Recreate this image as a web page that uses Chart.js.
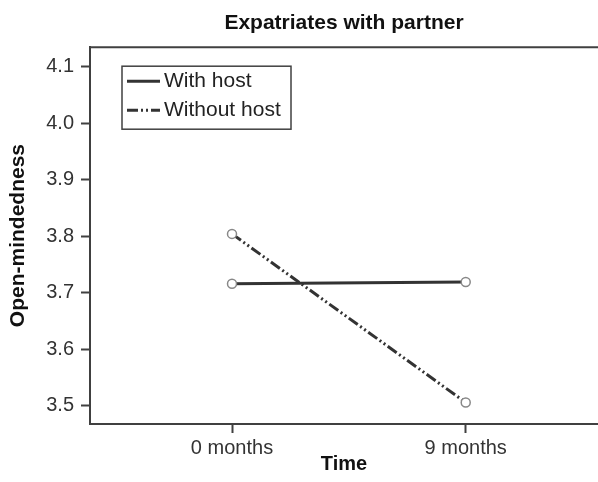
<!DOCTYPE html>
<html>
<head>
<meta charset="utf-8">
<script src="https://cdn.jsdelivr.net/npm/chart.js@4/dist/chart.umd.min.js"></script>
<style>
  html, body { margin: 0; padding: 0; background: #fff; }
  #wrap { width: 598px; height: 482px; }
</style>
</head>
<body>
<div id="wrap"><canvas id="chart"></canvas></div>
<script>
// Data
const categories = ["0 months", "9 months"];
const withHost = [3.716, 3.719];
const withoutHost = [3.804, 3.506];
const yTicks = [3.5, 3.6, 3.7, 3.8, 3.9, 4.0, 4.1];

const FONT = "'Liberation Sans', Arial, sans-serif";
const AXIS = "#404040";

// top frame line + boxed legend
const framePlugin = {
  id: "frame",
  afterDraw(chart) {
    const { ctx, chartArea } = chart;
    ctx.save();
    ctx.strokeStyle = AXIS;
    ctx.lineWidth = 2;
    ctx.beginPath();
    ctx.moveTo(chartArea.left, chartArea.top);
    ctx.lineTo(chartArea.right, chartArea.top);
    ctx.stroke();

    // legend
    const x = chartArea.left + 32, y = chartArea.top + 19;
    const w = 169, h = 63;
    ctx.lineWidth = 1.5;
    ctx.strokeRect(x, y, w, h);
    ctx.font = "21px " + FONT;
    ctx.textBaseline = "middle";
    ctx.fillStyle = "#222";
    chart.data.datasets.forEach((ds, i) => {
      const ly = y + 15 + i * 29;
      ctx.strokeStyle = ds.borderColor;
      ctx.lineWidth = 3;
      ctx.setLineDash(ds.borderDash || []);
      ctx.beginPath();
      ctx.moveTo(x + 5, ly);
      ctx.lineTo(x + 38, ly);
      ctx.stroke();
      ctx.setLineDash([]);
      ctx.fillText(ds.label, x + 42, ly);
    });
    ctx.restore();
  }
};

const toPoints = (arr) => arr.map((v, i) => ({ x: i, y: v }));

new Chart(document.getElementById("chart"), {
  type: "line",
  data: {
    datasets: [
      {
        label: "With host",
        data: toPoints(withHost),
        borderColor: "#333",
        borderWidth: 3,
        pointRadius: 4.5,
        pointBackgroundColor: "#fff",
        pointBorderColor: "#888",
        pointBorderWidth: 1.5,
      },
      {
        label: "Without host",
        data: toPoints(withoutHost),
        borderColor: "#333",
        borderWidth: 3,
        borderDash: [11, 3, 2, 3, 2, 3],
        pointRadius: 4.5,
        pointBackgroundColor: "#fff",
        pointBorderColor: "#888",
        pointBorderWidth: 1.5,
      },
    ],
  },
  options: {
    responsive: true,
    maintainAspectRatio: false,
    animation: false,
    layout: { padding: 0, autoPadding: false },
    plugins: {
      legend: { display: false },
      tooltip: { enabled: false },
      title: {
        display: true,
        text: "Expatriates with partner",
        fullSize: false,
        color: "#111",
        font: { family: FONT, size: 21, weight: "bold" },
        padding: { top: 11, bottom: 11 },
      },
    },
    scales: {
      x: {
        type: "linear",
        min: -0.6076,
        max: 1.566,
        afterBuildTicks: (scale) => {
          scale.ticks = categories.map((c, i) => ({ value: i }));
        },
        afterFit: (scale) => { scale.height = 58; },
        ticks: {
          callback: (v) => categories[Math.round(v)],
          color: "#333",
          font: { family: FONT, size: 20 },
          padding: 3,
          maxRotation: 0,
        },
        grid: { drawOnChartArea: false, tickLength: 9, tickColor: AXIS, tickWidth: 2 },
        border: { color: AXIS, width: 2 },
        title: {
          display: true,
          text: "Time",
          color: "#111",
          font: { family: FONT, size: 20, weight: "bold" },
          padding: { top: 0, bottom: 6 },
        },
      },
      y: {
        min: 3.468,
        max: 4.134,
        afterBuildTicks: (scale) => {
          scale.ticks = yTicks.map((v) => ({ value: v }));
        },
        afterFit: (scale) => { scale.width = 90; },
        ticks: {
          callback: (v) => v.toFixed(1),
          color: "#333",
          font: { family: FONT, size: 20 },
          padding: 7,
        },
        grid: { drawOnChartArea: false, tickLength: 9, tickColor: AXIS, tickWidth: 2 },
        border: { color: AXIS, width: 2 },
        title: {
          display: true,
          text: "Open-mindedness",
          color: "#111",
          font: { family: FONT, size: 21, weight: "bold" },
          padding: { top: 6, bottom: 0 },
        },
      },
    },
  },
  plugins: [framePlugin],
});
</script>
</body>
</html>
